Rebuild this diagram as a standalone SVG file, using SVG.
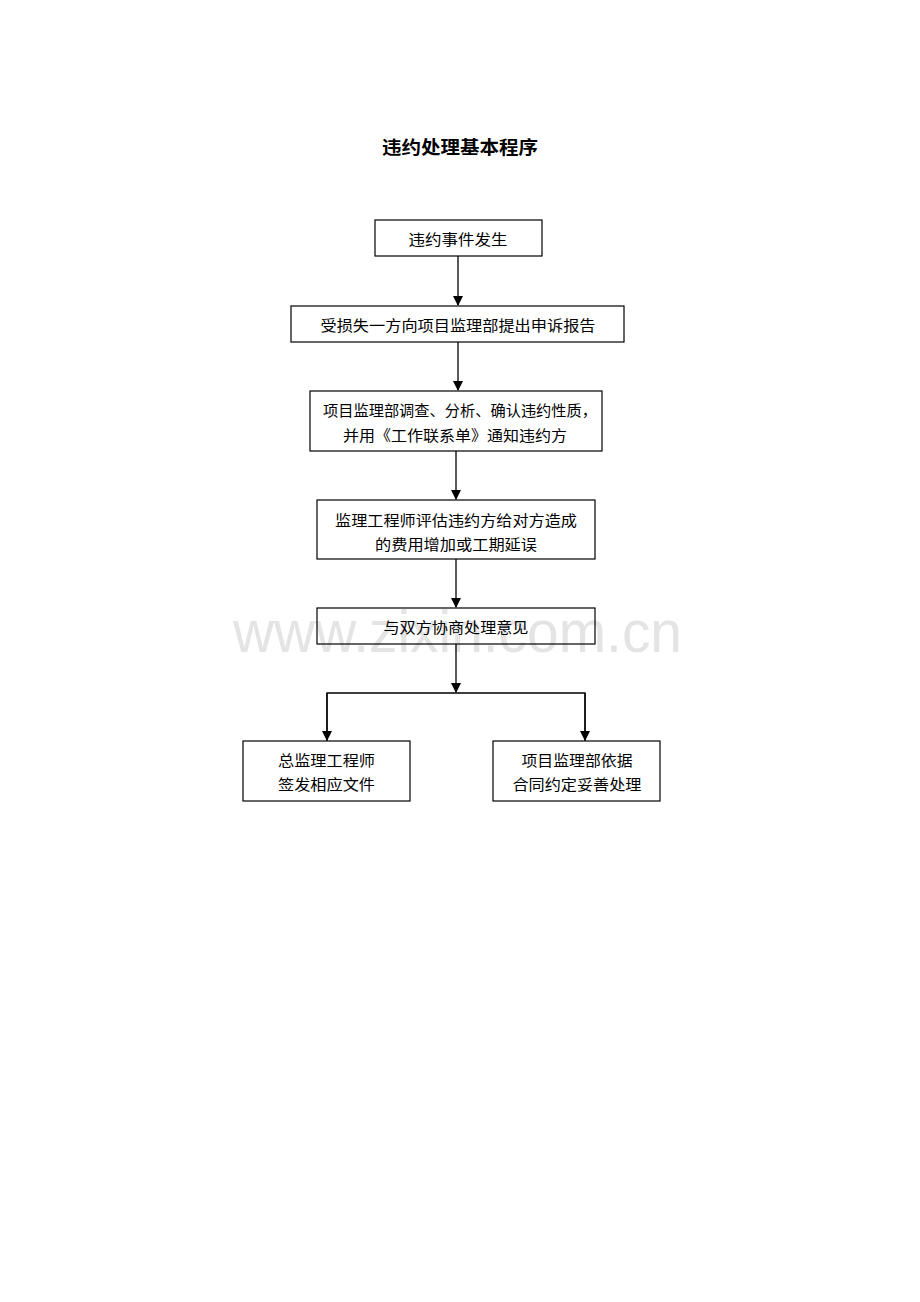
<svg xmlns="http://www.w3.org/2000/svg" width="920" height="1302" viewBox="0 0 920 1302">
<style>
.box{fill:none;stroke:#000;stroke-width:1.2}
.t{font-family:"Noto Sans CJK SC","Noto Sans",sans-serif;font-size:15px;fill:#000;text-anchor:middle}
.title{font-family:"Noto Sans CJK SC","Noto Sans",sans-serif;font-size:18px;font-weight:bold;fill:#000;text-anchor:middle}
.wm{font-family:"Liberation Sans",Arial,sans-serif;font-size:60px;fill:#e4e4e4}
.c{fill:none;stroke:#000;stroke-width:1.3}
</style>
<defs>
<marker id="ah" markerWidth="10" markerHeight="10" refX="9" refY="5" orient="auto" markerUnits="userSpaceOnUse">
<path d="M0,0 L10,5 L0,10 z" fill="#000"/>
</marker>
</defs>
<rect width="920" height="1302" fill="#fff"/>
<text class="wm" x="233" y="652" textLength="449" lengthAdjust="spacingAndGlyphs">www.zixin.com.cn</text>
<text class="title" x="460" y="154" textLength="156" lengthAdjust="spacingAndGlyphs">违约处理基本程序</text>
<g id="n1">
<rect class="box" x="375" y="220" width="167" height="36"/>
<text class="t" x="458" y="245" textLength="99" lengthAdjust="spacingAndGlyphs">违约事件发生</text>
</g>
<g id="n2">
<rect class="box" x="291" y="306" width="333" height="36"/>
<text class="t" x="458" y="331" textLength="275" lengthAdjust="spacingAndGlyphs">受损失一方向项目监理部提出申诉报告</text>
</g>
<g id="n3">
<rect class="box" x="310" y="391" width="292" height="60"/>
<text class="t" x="460" y="416" textLength="274" lengthAdjust="spacingAndGlyphs">项目监理部调查、分析、确认违约性质，</text>
<text class="t" x="455" y="441" textLength="224" lengthAdjust="spacingAndGlyphs">并用《工作联系单》通知违约方</text>
</g>
<g id="n4">
<rect class="box" x="317" y="500" width="278" height="59"/>
<text class="t" x="456" y="526" textLength="242" lengthAdjust="spacingAndGlyphs">监理工程师评估违约方给对方造成</text>
<text class="t" x="456" y="550" textLength="162" lengthAdjust="spacingAndGlyphs">的费用增加或工期延误</text>
</g>
<g id="n5">
<rect class="box" x="317" y="608" width="278" height="36"/>
<text class="t" x="456" y="633" textLength="145" lengthAdjust="spacingAndGlyphs">与双方协商处理意见</text>
</g>
<g id="n6">
<rect class="box" x="243" y="741" width="167" height="60"/>
<text class="t" x="326.5" y="766" textLength="97" lengthAdjust="spacingAndGlyphs">总监理工程师</text>
<text class="t" x="326.5" y="790" textLength="97" lengthAdjust="spacingAndGlyphs">签发相应文件</text>
</g>
<g id="n7">
<rect class="box" x="493" y="741" width="167" height="60"/>
<text class="t" x="577" y="766" textLength="111" lengthAdjust="spacingAndGlyphs">项目监理部依据</text>
<text class="t" x="577" y="790" textLength="129" lengthAdjust="spacingAndGlyphs">合同约定妥善处理</text>
</g>
<g id="connectors">
<line class="c" x1="458" y1="256" x2="458" y2="305" marker-end="url(#ah)"/>
<line class="c" x1="458" y1="342" x2="458" y2="390" marker-end="url(#ah)"/>
<line class="c" x1="456" y1="451" x2="456" y2="499" marker-end="url(#ah)"/>
<line class="c" x1="456" y1="559" x2="456" y2="607" marker-end="url(#ah)"/>
<line class="c" x1="456" y1="644" x2="456" y2="692" marker-end="url(#ah)"/>
<polyline class="c" points="327,741 327,693 585,693 585,741" marker-start="none"/>
<line class="c" x1="327" y1="693" x2="327" y2="740" marker-end="url(#ah)"/>
<line class="c" x1="585" y1="693" x2="585" y2="740" marker-end="url(#ah)"/>
</g>
</svg>
